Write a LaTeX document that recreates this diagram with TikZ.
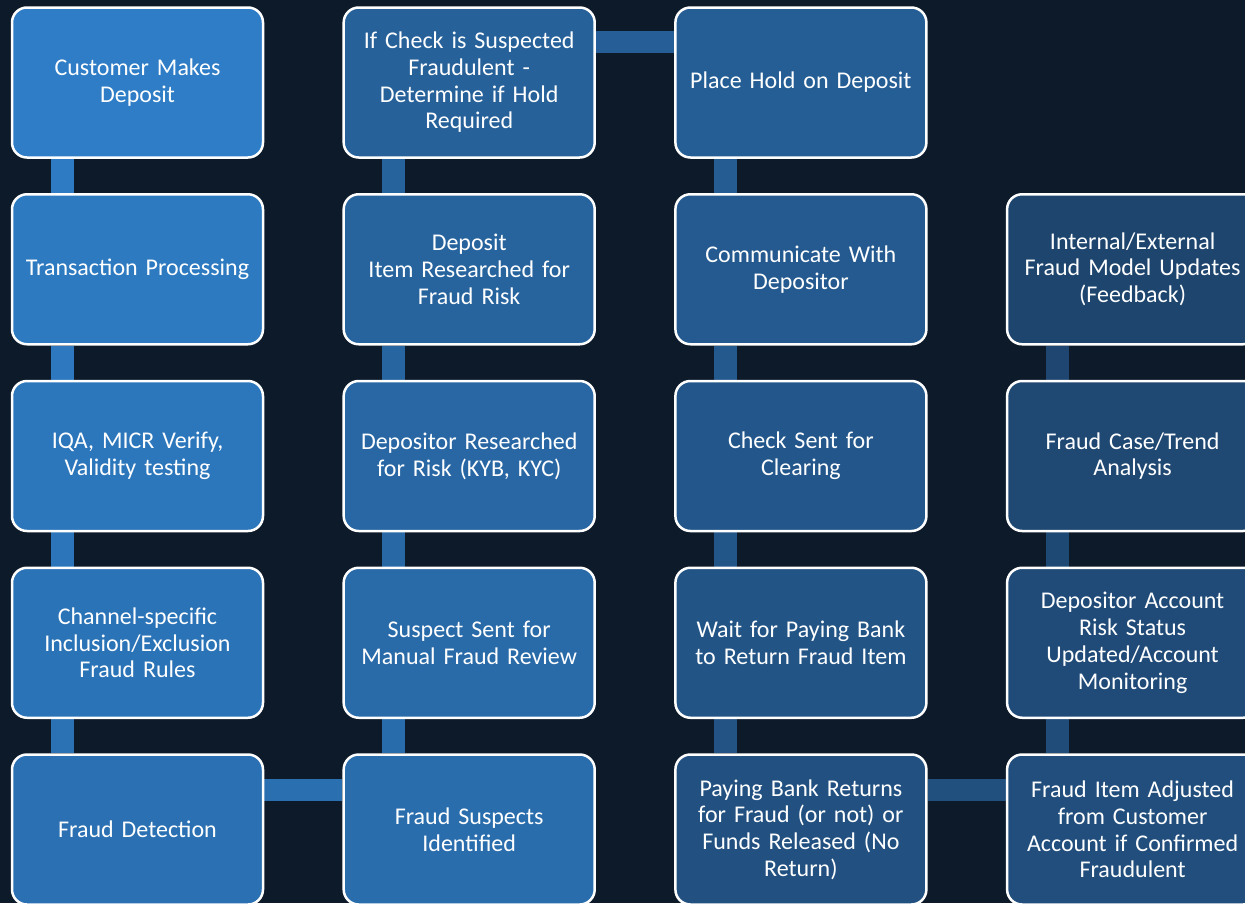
\documentclass[tikz,border=0pt]{standalone}
\usepackage{fontspec}
\setmainfont{Carlito}
\usetikzlibrary{backgrounds}
\tikzset{
  font={\fontsize{24pt}{26.7pt}\selectfont}
}
\definecolor{canvasColor}{HTML}{0D1A2A}
\definecolor{firstColor}{HTML}{2E7DC6}
\definecolor{lastColor}{HTML}{1E456E}
\def\colSeparation{331.7}
\def\rowSeparation{186.75}
\def\barOffset{51.5}
\def\lastStep{19}
\tikzstyle{stepbox}=[rectangle,rounded corners=15pt,draw=white,line width=2.5pt,minimum width=251pt,minimum height=150pt,text width=245pt,align=center,text=white,inner sep=0pt]
\tikzstyle{bar}=[line width=23pt]

\begin{document}
\begin{tikzpicture}[x=1pt,y=-1pt]
    \useasboundingbox (0,0) rectangle (1245,903);
    \clip (0,0) rectangle (1245,903);

    % process steps, in the order of the flow
    \foreach \i/\c/\r/\t in {
        1/0/0/{Customer Makes\\Deposit},
        2/0/1/{Transaction Processing},
        3/0/2/{IQA, MICR Verify,\\Validity testing},
        4/0/3/{Channel-specific\\Inclusion/Exclusion\\Fraud Rules},
        5/0/4/{Fraud Detection},
        6/1/4/{Fraud Suspects\\Identified},
        7/1/3/{Suspect Sent for\\Manual Fraud Review},
        8/1/2/{Depositor Researched\\for Risk (KYB, KYC)},
        9/1/1/{Deposit\\Item Researched for\\Fraud Risk},
        10/1/0/{If Check is Suspected\\Fraudulent -\\Determine if Hold\\Required},
        11/2/0/{Place Hold on Deposit},
        12/2/1/{Communicate With\\Depositor},
        13/2/2/{Check Sent for\\Clearing},
        14/2/3/{Wait for Paying Bank\\to Return Fraud Item},
        15/2/4/{Paying Bank Returns\\for Fraud (or not) or\\Funds Released (No\\Return)},
        16/3/4/{Fraud Item Adjusted\\from Customer\\Account if Confirmed\\Fraudulent},
        17/3/3/{Depositor Account\\Risk Status\\Updated/Account\\Monitoring},
        18/3/2/{Fraud Case/Trend\\Analysis},
        19/3/1/{Internal/External\\Fraud Model Updates\\(Feedback)}} {
        \pgfmathtruncatemacro\share{100-(\i-1)*100/(\lastStep-1)}
        \node[stepbox,fill=firstColor!\share!lastColor] (step-\i) at (137.5+\c*\colSeparation, 82.5+\r*\rowSeparation) {\t};
    }

    \begin{scope}[on background layer]
        \clip (0,0) rectangle (1245,903);
        \fill[canvasColor] (0,0) rectangle (1245,903);

        % bars going down a column
        \foreach \a/\b in {1/2,2/3,3/4,4/5,11/12,12/13,13/14,14/15} {
            \pgfmathtruncatemacro\share{100-(\a-0.5)*100/(\lastStep-1)}
            \draw[bar,draw=firstColor!\share!lastColor] ([xshift=\barOffset]step-\a.south west) -- ([xshift=\barOffset]step-\b.north west);
        }
        % bars going up a column
        \foreach \a/\b in {6/7,7/8,8/9,9/10,16/17,17/18,18/19} {
            \pgfmathtruncatemacro\share{100-(\a-0.5)*100/(\lastStep-1)}
            \draw[bar,draw=firstColor!\share!lastColor] ([xshift=\barOffset]step-\a.north west) -- ([xshift=\barOffset]step-\b.south west);
        }
        % bars across to the next column
        \foreach \a/\b/\d in {5/6/37,10/11/36,15/16/37} {
            \pgfmathtruncatemacro\share{100-(\a-0.5)*100/(\lastStep-1)}
            \draw[bar,line width=22pt,draw=firstColor!\share!lastColor] ([yshift=-\d]step-\a.north east) -- ([yshift=-\d]step-\b.north west);
        }
    \end{scope}
\end{tikzpicture}
\end{document}
